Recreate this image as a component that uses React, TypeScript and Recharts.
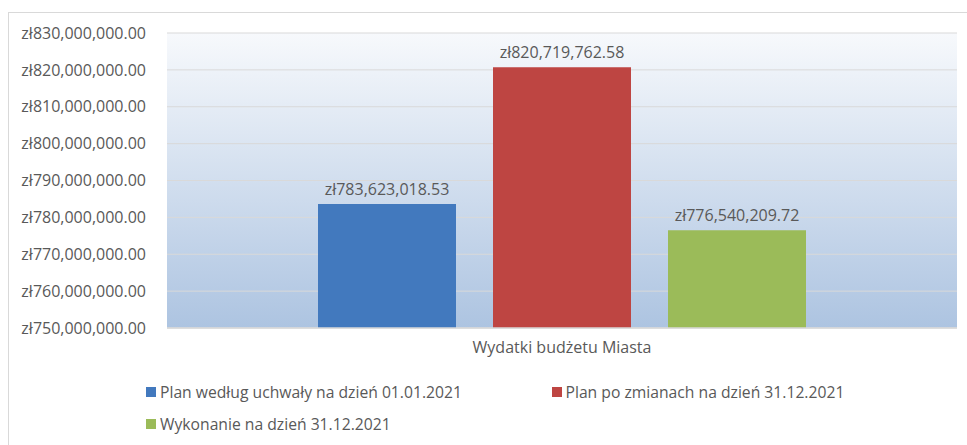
import React from 'react';
import { BarChart, Bar, XAxis, YAxis, CartesianGrid, Legend, LabelList } from 'recharts';

const categories = ['Wydatki budżetu Miasta'];
const planUchwala = [783623018.53];
const planZmiany = [820719762.58];
const wykonanie = [776540209.72];
const yTicks = [750000000, 760000000, 770000000, 780000000, 790000000, 800000000, 810000000, 820000000, 830000000];

const seriesNames = [
  'Plan według uchwały na dzień 01.01.2021',
  'Plan po zmianach na dzień 31.12.2021',
  'Wykonanie na dzień 31.12.2021',
];
const colors = ['#4279BE', '#BE4542', '#9BBB59'];

const data = categories.map((name, i) => ({
  name,
  plan: planUchwala[i],
  zmiany: planZmiany[i],
  wyk: wykonanie[i],
}));

const FONT = '"Open Sans", sans-serif';
const TEXT = '#595959';

const zl = (v: number) =>
  'zł' + v.toLocaleString('en-US', { minimumFractionDigits: 2, maximumFractionDigits: 2 });

// legend: two columns, green wraps to second row
const LegendBox = () => {
  const item = (i: number) => (
    <div style={{ display: 'flex', alignItems: 'center', width: 409, height: 20 }}>
      <div style={{ width: 10, height: 10, background: colors[i], marginRight: 4 }} />
      <span style={{ fontSize: 15.7, color: TEXT, fontFamily: FONT, whiteSpace: 'nowrap' }}>{seriesNames[i]}</span>
    </div>
  );
  return (
    <div style={{ height: 66, paddingTop: 14, paddingLeft: 137, boxSizing: 'border-box' }}>
      <div style={{ display: 'flex' }}>
        {item(0)}
        {item(1)}
      </div>
      <div style={{ display: 'flex', marginTop: 12 }}>{item(2)}</div>
    </div>
  );
};

export default function App() {
  return (
    <div style={{ position: 'fixed', inset: 0, overflow: 'hidden', background: '#fff' }}>
      <div
        style={{
          position: 'absolute',
          left: 8,
          top: 12,
          width: 1000,
          height: 500,
          border: '1px solid #d9d9d9',
        }}
      >
        <BarChart
          width={958}
          height={430}
          data={data}
          margin={{ top: 20, right: 10, left: 0, bottom: 9 }}
          barSize={138}
          barGap={37}
        >
          <defs>
            <linearGradient id="plotBg" x1="0" y1="0" x2="0" y2="1">
              <stop offset="0%" stopColor="#f7f9fc" />
              <stop offset="100%" stopColor="#adc4e1" />
            </linearGradient>
          </defs>
          <CartesianGrid vertical={false} stroke="#d9d9d9" fill="url(#plotBg)" fillOpacity={1} />
          <XAxis
            dataKey="name"
            height={40}
            axisLine={{ stroke: '#d9d9d9', strokeWidth: 1.5 }}
            tickLine={false}
            tickSize={0}
            tickMargin={14}
            tick={{ fill: TEXT, fontSize: 16, fontFamily: FONT }}
          />
          <YAxis
            width={158}
            domain={[750000000, 830000000]}
            ticks={yTicks}
            allowDataOverflow
            axisLine={false}
            tickLine={false}
            tickSize={0}
            tickMargin={21}
            tickFormatter={zl}
            tick={{ fill: TEXT, fontSize: 16, fontFamily: FONT }}
          />
          <Legend verticalAlign="bottom" content={() => <LegendBox />} />
          <Bar dataKey="plan" name={seriesNames[0]} fill={colors[0]} isAnimationActive={false}>
            <LabelList dataKey="plan" position="top" offset={9} formatter={zl} fill={TEXT} fontSize={16} fontFamily={FONT} />
          </Bar>
          <Bar dataKey="zmiany" name={seriesNames[1]} fill={colors[1]} isAnimationActive={false}>
            <LabelList dataKey="zmiany" position="top" offset={9} formatter={zl} fill={TEXT} fontSize={16} fontFamily={FONT} />
          </Bar>
          <Bar dataKey="wyk" name={seriesNames[2]} fill={colors[2]} isAnimationActive={false}>
            <LabelList dataKey="wyk" position="top" offset={9} formatter={zl} fill={TEXT} fontSize={16} fontFamily={FONT} />
          </Bar>
        </BarChart>
      </div>
    </div>
  );
}
